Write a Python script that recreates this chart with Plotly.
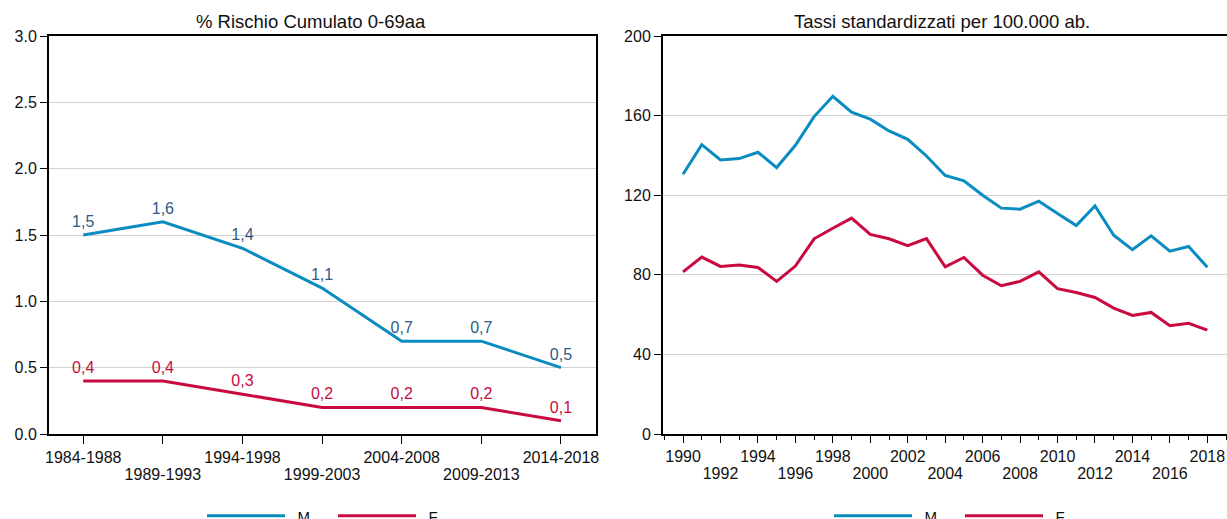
import plotly.graph_objects as go

# ---- data ----
periods = ["1984-1988", "1989-1993", "1994-1998", "1999-2003", "2004-2008", "2009-2013", "2014-2018"]
risk_m = [1.5, 1.6, 1.4, 1.1, 0.7, 0.7, 0.5]
risk_f = [0.4, 0.4, 0.3, 0.2, 0.2, 0.2, 0.1]

years = list(range(1990, 2019))
rate_m = [130.5, 145.4, 137.7, 138.4, 141.6, 133.9, 145.1, 159.5, 169.7, 161.7,
          158.2, 152.3, 148.1, 139.7, 129.9, 127.2, 120.0, 113.5, 113.0, 117.0,
          110.8, 104.8, 114.6, 99.9, 92.6, 99.6, 91.9, 94.2, 83.8]
rate_f = [81.5, 88.9, 84.2, 84.9, 83.7, 76.7, 84.4, 98.1, 103.4, 108.5,
          100.3, 98.1, 94.6, 98.2, 84.0, 88.7, 79.8, 74.5, 76.7, 81.5,
          73.0, 71.1, 68.6, 63.3, 59.6, 61.1, 54.4, 55.6, 52.2]

series_names = ["M", "F"]
left_title = "% Rischio Cumulato 0-69aa"
right_title = "Tassi standardizzati per 100.000 ab."

BLUE = "#0a8cc0"
RED = "#c80a3e"
BLUE_TXT = "#2c5a88"
FONT = "Liberation Sans, Arial, sans-serif"
TXT = "#111111"

def it(v):
    return f"{v:.1f}".replace(".", ",")

W, H = 1227, 519
ml, mt = 49, 36
plot_bottom = 434
mb = H - plot_bottom
mr = 0
pw = W - ml - mr
ph = plot_bottom - mt

def px(xpage):
    return (xpage - ml) / pw

def py(ypage):
    return (plot_bottom - ypage) / ph

d1 = [0, px(596)]
d2 = [px(663), 1.0]

idx = list(range(len(periods)))
leg_name = lambda n: "\u2002" + n

fig = go.Figure()
lab_marker = dict(size=5, color="rgba(0,0,0,0)")
fig.add_trace(go.Scatter(x=idx, y=risk_m, mode="lines+markers+text", name=leg_name(series_names[0]),
                         text=[it(v) for v in risk_m], textposition="top center",
                         textfont=dict(color=BLUE_TXT, size=16, family=FONT), marker=lab_marker,
                         line=dict(color=BLUE, width=3), xaxis="x", yaxis="y", legend="legend",
                         hoverinfo="skip"))
fig.add_trace(go.Scatter(x=idx, y=risk_f, mode="lines+markers+text", name=leg_name(series_names[1]),
                         text=[it(v) for v in risk_f], textposition="top center",
                         textfont=dict(color=RED, size=16, family=FONT), marker=lab_marker,
                         line=dict(color=RED, width=3), xaxis="x", yaxis="y", legend="legend",
                         hoverinfo="skip"))
fig.add_trace(go.Scatter(x=years, y=rate_m, mode="lines", name=leg_name(series_names[0]),
                         line=dict(color=BLUE, width=3), xaxis="x2", yaxis="y2", legend="legend2"))
fig.add_trace(go.Scatter(x=years, y=rate_f, mode="lines", name=leg_name(series_names[1]),
                         line=dict(color=RED, width=3), xaxis="x2", yaxis="y2", legend="legend2"))
# invisible carriers so the second-row label axes get drawn
fig.add_trace(go.Scatter(x=idx, y=risk_m, mode="lines", line=dict(width=0, color="rgba(0,0,0,0)"),
                         xaxis="x3", yaxis="y", showlegend=False, hoverinfo="skip"))
fig.add_trace(go.Scatter(x=years, y=rate_m, mode="lines", line=dict(width=0, color="rgba(0,0,0,0)"),
                         xaxis="x4", yaxis="y2", showlegend=False, hoverinfo="skip"))

tick_font = dict(family=FONT, size=16, color=TXT)
axis_common = dict(showline=True, linecolor="black", linewidth=2, ticks="outside",
                   tickcolor="black", tickwidth=1, tickfont=tick_font, zeroline=False)

row1_text = [p if i % 2 == 0 else "" for i, p in enumerate(periods)]
row2_vals = [i for i in idx if i % 2 == 1]
row2_text = [periods[i] for i in row2_vals]

yr_ticks = list(range(1990, 2019, 2))
yr_row1_text = [str(y) if i % 2 == 0 else "" for i, y in enumerate(yr_ticks)]
yr_row2_vals = [y for i, y in enumerate(yr_ticks) if i % 2 == 1]
yr_row2_text = [str(y) for y in yr_row2_vals]

LEFT_RANGE = [-0.43, 6.44]
RIGHT_RANGE = [1988.93, 2019.05]
ROW_GAP = 18

legend_common = dict(orientation="h", xanchor="left", y=py(516), yanchor="middle",
                     itemwidth=78, entrywidth=38, font=dict(family=FONT, size=15, color=TXT),
                     bgcolor="rgba(0,0,0,0)", borderwidth=0)

fig.update_layout(
    width=W, height=H,
    margin=dict(l=ml, r=mr, t=mt, b=mb, autoexpand=False),
    paper_bgcolor="white", plot_bgcolor="white",
    font=dict(family=FONT, color=TXT),
    xaxis=dict(domain=d1, range=LEFT_RANGE, tickvals=idx, ticktext=row1_text, ticklen=8,
               showgrid=False, mirror=True, anchor="y", **axis_common),
    xaxis3=dict(domain=d1, range=LEFT_RANGE, tickvals=row2_vals, ticktext=row2_text,
                overlaying="x", anchor="y", side="bottom", showline=False, ticks="outside",
                ticklen=8, tickcolor="rgba(0,0,0,0)", tickfont=tick_font, showgrid=False,
                zeroline=False, ticklabelstandoff=ROW_GAP),
    yaxis=dict(domain=[0, 1], range=[0, 3.0], tickvals=[0, 0.5, 1, 1.5, 2, 2.5, 3],
               tickformat=".1f", ticklen=7, showgrid=True, gridcolor="#d2d2d2", gridwidth=1,
               mirror=True, anchor="x", **axis_common),
    xaxis2=dict(domain=d2, range=RIGHT_RANGE, tickvals=yr_ticks, ticktext=yr_row1_text,
                ticklen=7, showgrid=False, mirror=True, anchor="y2",
                minor=dict(dtick=1, tick0=1990, ticks="outside", ticklen=4, tickcolor="black",
                           showgrid=False),
                **axis_common),
    xaxis4=dict(domain=d2, range=RIGHT_RANGE, tickvals=yr_row2_vals, ticktext=yr_row2_text,
                overlaying="x2", anchor="y2", side="bottom", showline=False, ticks="outside",
                ticklen=7, tickcolor="rgba(0,0,0,0)", tickfont=tick_font, showgrid=False,
                zeroline=False, ticklabelstandoff=ROW_GAP),
    yaxis2=dict(domain=[0, 1], range=[0, 200], tickvals=[0, 40, 80, 120, 160, 200],
                ticklen=7, showgrid=True, gridcolor="#d2d2d2", gridwidth=1,
                mirror=False, anchor="x2", **axis_common),
    legend=dict(x=px(202), **legend_common),
    legend2=dict(x=px(829), **legend_common),
    annotations=[
        dict(text=left_title, x=px(311), y=py(22), xref="paper", yref="paper", showarrow=False,
             xanchor="center", yanchor="middle", font=dict(family=FONT, size=18.5, color=TXT)),
        dict(text=right_title, x=px(942), y=py(22), xref="paper", yref="paper", showarrow=False,
             xanchor="center", yanchor="middle", font=dict(family=FONT, size=18.5, color=TXT)),
    ],
)

fig.write_html("out.html", config={"displayModeBar": False},
               post_script="document.body.style.margin='0';document.body.style.overflow='hidden';")
